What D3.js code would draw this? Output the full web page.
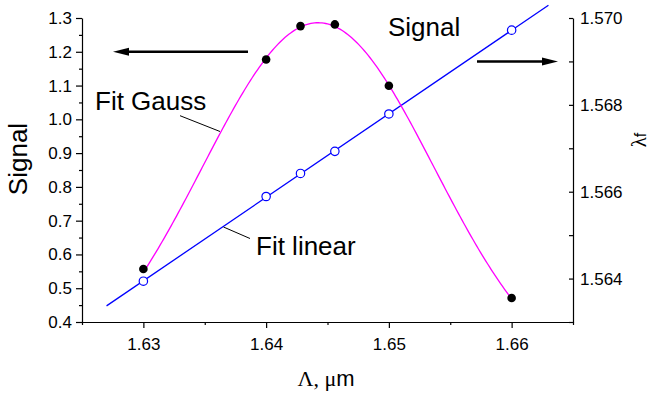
<!DOCTYPE html>
<html>
<head>
<meta charset="utf-8">
<script src="https://cdn.jsdelivr.net/npm/d3@7"></script>
<style>
  html, body { margin: 0; padding: 0; background: #fff; }
  svg { display: block; }
  text { font-family: "Liberation Sans", Arial, sans-serif; fill: #000; }
</style>
</head>
<body>
<svg id="chart" width="651" height="394"></svg>
<script>
// ---- data ----
const period = [1.630, 1.640, 1.6428, 1.6456, 1.650, 1.660];        // Λ, µm
const signal = [0.557, 1.177, 1.276, 1.281, 1.0995, 0.471];          // left axis
const lambdaF = [1.56394, 1.56589, 1.56642, 1.56693, 1.56779, 1.56972]; // right axis

// Gauss fit parameters (estimated from the drawn curve)
const gaussY0 = 0.2;
const gaussA = 1.086;
const gaussXc = 1.64424;
const gaussSigma = 0.00943;
const gaussRange = [1.630, 1.660];
const linearRange = [1.627, 1.663];

// tick values
const xMajor = [1.63, 1.64, 1.65, 1.66];
const xMinor = [1.625, 1.635, 1.645, 1.655, 1.665];
const yLeftMajor = [0.4, 0.5, 0.6, 0.7, 0.8, 0.9, 1.0, 1.1, 1.2, 1.3];
const yLeftMinor = [0.45, 0.55, 0.65, 0.75, 0.85, 0.95, 1.05, 1.15, 1.25];
const yRightMajor = [1.564, 1.566, 1.568, 1.570];
const yRightMinor = [1.563, 1.565, 1.567, 1.569];

// ---- layout ----
const L = 82, R = 573, T = 18, B = 322;
const svg = d3.select("#chart");

const x = d3.scaleLinear().domain([1.625, 1.665]).range([L, R]);
const yL = d3.scaleLinear().domain([0.4, 1.3]).range([B, T]);
const yR = d3.scaleLinear().domain([1.563, 1.570]).range([B, T]);

function styleAxis(g) {
  g.selectAll("path.domain").attr("stroke", "#000").attr("stroke-width", 1.2);
  g.selectAll(".tick line").attr("stroke", "#000").attr("stroke-width", 1.2);
  g.selectAll(".tick text").attr("font-size", 17)
    .attr("font-family", "'Liberation Sans', Arial, sans-serif").attr("fill", "#000");
}

// left axis
svg.append("g").attr("transform", `translate(${L},0)`)
  .call(d3.axisLeft(yL).tickValues(yLeftMajor).tickFormat(d3.format(".1f"))
    .tickSize(6).tickSizeOuter(0).tickPadding(4))
  .call(styleAxis);
svg.append("g").attr("transform", `translate(${L},0)`)
  .call(d3.axisLeft(yL).tickValues(yLeftMinor).tickFormat("").tickSize(3).tickSizeOuter(0))
  .call(g => g.select("path.domain").remove())
  .call(styleAxis);

// bottom axis
svg.append("g").attr("transform", `translate(0,${B})`)
  .call(d3.axisBottom(x).tickValues(xMajor).tickFormat(d3.format(".2f"))
    .tickSize(6).tickSizeOuter(0).tickPadding(10))
  .call(styleAxis);
svg.append("g").attr("transform", `translate(0,${B})`)
  .call(d3.axisBottom(x).tickValues(xMinor).tickFormat("").tickSize(3).tickSizeOuter(0))
  .call(g => g.select("path.domain").remove())
  .call(styleAxis);

// right axis (ticks inward)
svg.append("g").attr("transform", `translate(${R},0)`)
  .call(d3.axisRight(yR).tickValues(yRightMajor).tickFormat(d3.format(".3f"))
    .tickSizeInner(-4).tickSizeOuter(0).tickPadding(7))
  .call(styleAxis);
svg.append("g").attr("transform", `translate(${R},0)`)
  .call(d3.axisRight(yR).tickValues(yRightMinor).tickFormat("")
    .tickSizeInner(-4).tickSizeOuter(0))
  .call(g => g.select("path.domain").remove())
  .call(styleAxis);

// axis titles
svg.append("text").attr("transform", `translate(27,159) rotate(-90)`)
  .attr("text-anchor", "middle").attr("font-size", 26).text("Signal");

const rt = svg.append("text").attr("transform", `translate(646,140) rotate(-90)`)
  .attr("text-anchor", "middle");
rt.append("tspan").attr("font-family", "'Liberation Serif', 'Times New Roman', serif")
  .attr("font-size", 21).text("λ");
rt.append("tspan").attr("font-size", 16).text("f");

const xt = svg.append("text").attr("x", 326).attr("y", 386).attr("font-size", 22)
  .attr("text-anchor", "middle");
xt.append("tspan").attr("font-family", "'Liberation Serif', 'Times New Roman', serif").text("Λ, μ");
xt.append("tspan").text("m");

// ---- linear fit (least squares on λf data) ----
const mx = d3.mean(period), my = d3.mean(lambdaF);
const sxy = d3.sum(period, (v, i) => (v - mx) * (lambdaF[i] - my));
const sxx = d3.sum(period, v => (v - mx) * (v - mx));
const slope = sxy / sxx, intercept = my - slope * mx;
svg.append("path")
  .attr("d", d3.line().x(d => x(d)).y(d => yR(intercept + slope * d))(linearRange))
  .attr("fill", "none").attr("stroke", "#0000ff").attr("stroke-width", 1.3);

// ---- Gauss fit ----
const gaussX = d3.range(0, 201).map(i => gaussRange[0] + (gaussRange[1] - gaussRange[0]) * i / 200);
const gauss = v => gaussY0 + gaussA * Math.exp(-((v - gaussXc) ** 2) / (2 * gaussSigma * gaussSigma));
svg.append("path")
  .attr("d", d3.line().x(d => x(d)).y(d => yL(gauss(d)))(gaussX))
  .attr("fill", "none").attr("stroke", "#ff00ff").attr("stroke-width", 1.3);

// ---- points ----
svg.append("g").selectAll("circle").data(period).join("circle")
  .attr("cx", d => x(d)).attr("cy", (d, i) => yR(lambdaF[i])).attr("r", 4.2)
  .attr("fill", "#fff").attr("stroke", "#0000ff").attr("stroke-width", 1.2);
svg.append("g").selectAll("circle").data(period).join("circle")
  .attr("cx", d => x(d)).attr("cy", (d, i) => yL(signal[i])).attr("r", 4.3)
  .attr("fill", "#000");

// ---- annotations ----
svg.append("text").attr("x", 95).attr("y", 110).attr("font-size", 26).text("Fit Gauss");
svg.append("line").attr("x1", 180).attr("y1", 115.7).attr("x2", 220).attr("y2", 131.5)
  .attr("stroke", "#000").attr("stroke-width", 1);
svg.append("text").attr("x", 256).attr("y", 255).attr("font-size", 26).text("Fit linear");
svg.append("line").attr("x1", 223.5).attr("y1", 227).attr("x2", 250).attr("y2", 238.5)
  .attr("stroke", "#000").attr("stroke-width", 1);
svg.append("text").attr("x", 388).attr("y", 35.5).attr("font-size", 26).text("Signal");

// arrows
const ya = yL(1.2), yb = yR(1.569);
svg.append("line").attr("x1", 248).attr("y1", ya).attr("x2", 124).attr("y2", ya)
  .attr("stroke", "#000").attr("stroke-width", 2.4);
svg.append("path").attr("d", `M113,${ya} L129,${ya - 4} L129,${ya + 4} Z`).attr("fill", "#000");
svg.append("line").attr("x1", 477).attr("y1", yb).attr("x2", 547).attr("y2", yb)
  .attr("stroke", "#000").attr("stroke-width", 2.4);
svg.append("path").attr("d", `M558,${yb} L542,${yb - 4} L542,${yb + 4} Z`).attr("fill", "#000");
</script>
</body>
</html>
